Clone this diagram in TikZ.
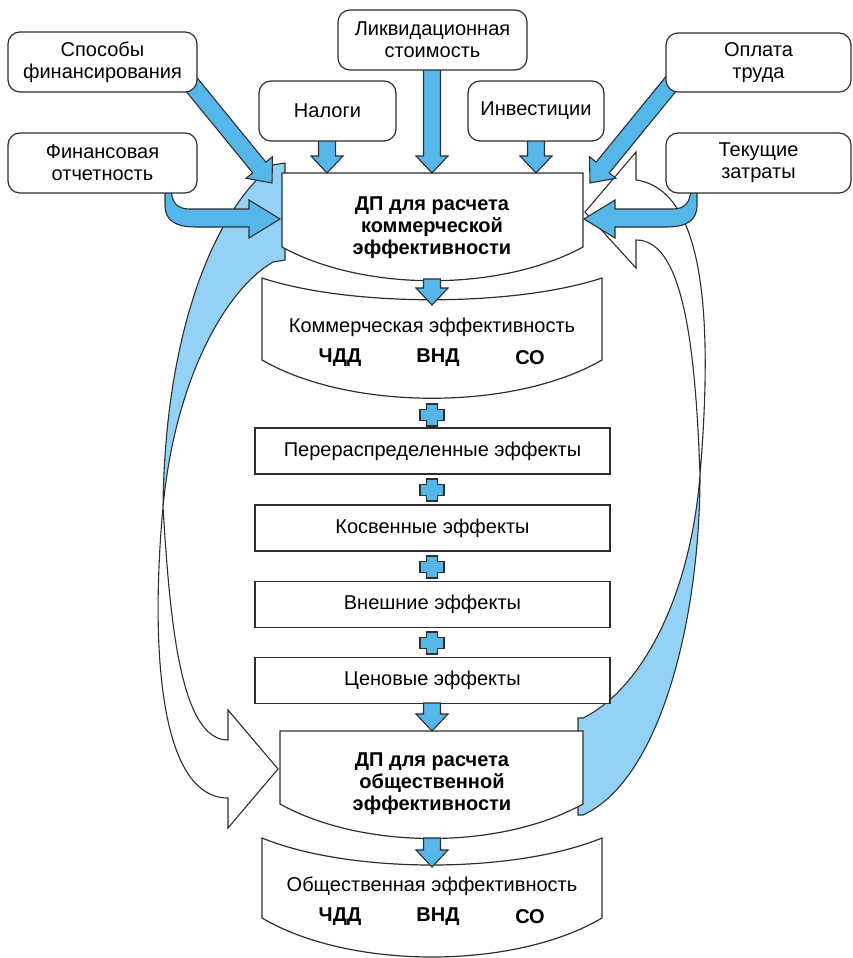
\documentclass[tikz,border=0pt]{standalone}
\usepackage{fontspec}
\setmainfont{Liberation Sans}
\definecolor{lc}{HTML}{2E2E2E}
\definecolor{ablue}{HTML}{55B7E9}
\definecolor{lblue}{HTML}{94D2F5}
\newcommand{\fs}{\fontsize{20}{22}\selectfont}
\newcommand{\dnarr}[3]{\draw[arr] (#1-8.5,#2) -- (#1+8.5,#2) -- (#1+8.5,#3-17) -- (#1+16,#3-17) -- (#1,#3) -- (#1-16,#3-17) -- (#1-8.5,#3-17) -- cycle;}
\newcommand{\plussign}[2]{\draw[arr] (#1-5.5,#2-11) -- (#1+5.5,#2-11) -- (#1+5.5,#2-5.5) -- (#1+12,#2-5.5) -- (#1+12,#2+5.5) -- (#1+5.5,#2+5.5) -- (#1+5.5,#2+11) -- (#1-5.5,#2+11) -- (#1-5.5,#2+5.5) -- (#1-12,#2+5.5) -- (#1-12,#2-5.5) -- (#1-5.5,#2-5.5) -- cycle;}
\tikzset{
 box/.style={draw=lc, line width=1.2pt, fill=white},
 tbox/.style={box, rounded corners=12pt, align=center, font=\fs, inner sep=0pt},
 rbox/.style={box, align=center, font=\fs, inner sep=0pt, minimum width=355pt, minimum height=46pt},
 arr/.style={draw=lc, line width=1.1pt, fill=ablue, line join=miter},
 band/.style={draw=lc, line width=1.1pt, fill=lblue},
 bandw/.style={draw=lc, line width=1.1pt, fill=white},
 lbl/.style={font=\fs, align=center, inner sep=0pt},
 blbl/.style={font=\fs\bfseries, align=center, inner sep=0pt}
}
\begin{document}
\begin{tikzpicture}[x=1pt,y=-1pt]
\useasboundingbox (0,0) rectangle (852,958);
% ---- twisted ribbon bands ----
\draw[band] (285,163) -- (273,165) .. controls (215,210) and (165,330) .. (163,507) .. controls (175,380) and (225,290) .. (273,262) -- (285,260) -- cycle;
\draw[bandw] (163,507) .. controls (170,620) and (180,740) .. (228,740) -- (228,710) -- (278,769) -- (228,828) -- (228,798) .. controls (160,798) and (150,650) .. (163,507) -- cycle;
\draw[band] (578,718) -- (583,718) .. controls (640,690) and (690,600) .. (700,475) .. controls (700,620) and (660,780) .. (583,815) -- (578,815) -- cycle;
\draw[bandw] (700,475) .. controls (712,330) and (708,190) .. (636,180) -- (636,152) -- (585,212) -- (636,268) -- (636,240) .. controls (680,240) and (695,330) .. (700,475) -- cycle;
% ---- central shapes ----
\draw[box] (282,173) -- (583,173) -- (583,247) .. controls (500,292) and (364,292) .. (282,247) -- cycle;
\node[blbl] (dp1) at (432,228) {ДП для расчета\\коммерческой\\эффективности};
\draw[box] (262,278) .. controls (350,307) and (514,307) .. (602,278) -- (602,360) .. controls (514,411) and (350,411) .. (262,360) -- cycle;
\node[lbl] (kom) at (432,327) {Коммерческая эффективность};
\node[blbl] (kom1) at (340,358) {ЧДД};
\node[blbl] (kom2) at (438,358) {ВНД};
\node[blbl] (kom3) at (530,358) {СО};
\node[rbox] (r1) at (432.5,451) {Перераспределенные эффекты};
\node[rbox] (r2) at (432.5,528) {Косвенные эффекты};
\node[rbox] (r3) at (432.5,604.5) {Внешние эффекты};
\node[rbox] (r4) at (432.5,680.5) {Ценовые эффекты};
\draw[box] (280,731) -- (583,731) -- (583,804) .. controls (500,850) and (363,850) .. (280,804) -- cycle;
\node[blbl] (dp2) at (432,784) {ДП для расчета\\общественной\\эффективности};
\draw[box] (262,838) .. controls (350,874) and (514,874) .. (602,838) -- (602,918) .. controls (514,970) and (350,970) .. (262,918) -- cycle;
\node[lbl] (obsh) at (432,886) {Общественная эффективность};
\node[blbl] (ob1) at (340,917) {ЧДД};
\node[blbl] (ob2) at (438,917) {ВНД};
\node[blbl] (ob3) at (530,917) {СО};
% ---- blue arrows ----
\dnarr{327}{135}{173}
\dnarr{432}{65}{173}
\dnarr{536}{135}{173}
\dnarr{432}{279}{305}
\dnarr{432}{703}{731}
\dnarr{432}{838}{867}
\plussign{432}{415}
\plussign{432}{490}
\plussign{432}{567}
\plussign{432}{643}
\draw[arr] (178.4,81.9) -- (252.7,172.9) -- (246.1,178.3) -- (272,183) -- (272.5,156.7) -- (265.9,162.1) -- (191.6,71.1) -- cycle;
\draw[arr] (683.6,81.9) -- (609.3,172.9) -- (615.9,178.3) -- (590,183) -- (589.5,156.7) -- (596.1,162.1) -- (670.4,71.1) -- cycle;
\draw[arr] (165,186) -- (165,205) .. controls (165,221) and (176,227) .. (196,227) -- (249,227) -- (249,238) -- (280,219) -- (249,200) -- (249,209) -- (190,209) .. controls (177,209) and (171,203) .. (171,186) -- cycle;
\draw[arr] (697,186) -- (697,205) .. controls (697,221) and (686,227) .. (666,227) -- (615,227) -- (615,238) -- (584,219) -- (615,200) -- (615,209) -- (672,209) .. controls (685,209) and (691,203) .. (691,186) -- cycle;
% ---- top boxes ----
\node[tbox, minimum width=189pt, minimum height=60pt] (sposoby) at (102.5,62) {Способы\\финансирования};
\node[tbox, minimum width=189pt, minimum height=60pt] (finotch) at (102.5,163) {Финансовая\\отчетность};
\node[tbox, minimum width=137pt, minimum height=60pt] (nalogi) at (327.5,111) {Налоги};
\node[tbox, minimum width=189pt, minimum height=60pt] (likv) at (432.5,40) {Ликвидационная\\стоимость};
\node[tbox, minimum width=136pt, minimum height=60pt] (invest) at (536,111) {Инвестиции};
\node[tbox, minimum width=185pt, minimum height=59pt] (oplata) at (758.5,62.5) {Оплата\\труда};
\node[tbox, minimum width=185pt, minimum height=60pt] (tekush) at (758.5,163) {Текущие\\затраты};
\end{tikzpicture}
\end{document}
